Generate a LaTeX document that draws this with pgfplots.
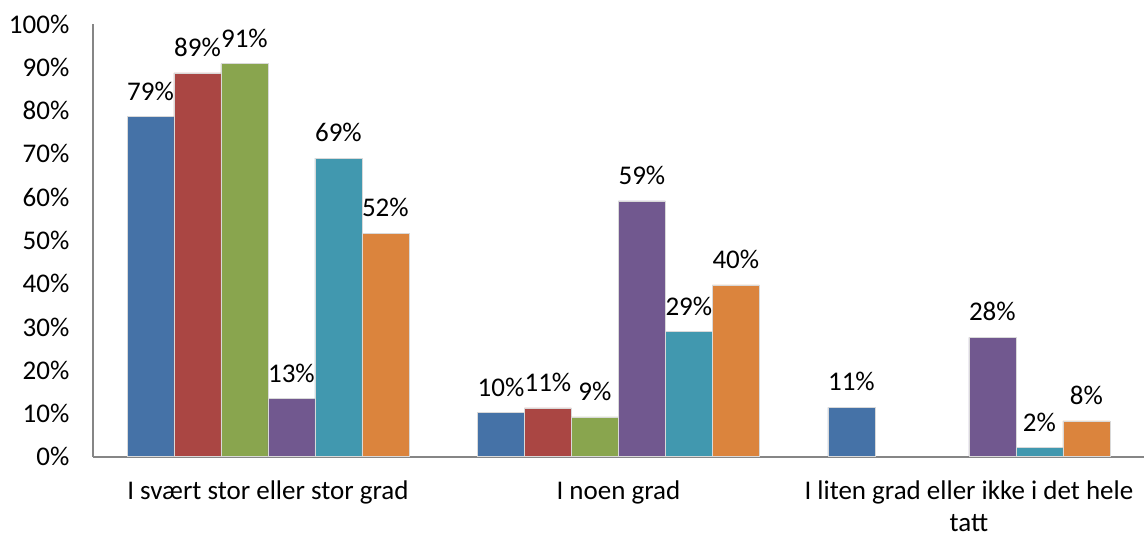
\documentclass[border=0pt]{standalone}
\usepackage{pgfplots}
\pgfplotsset{compat=1.18}
\usepackage{fontspec}
\setmainfont{Carlito}
\definecolor{c1}{HTML}{4572A7}
\definecolor{c2}{HTML}{AA4643}
\definecolor{c3}{HTML}{89A54E}
\definecolor{c4}{HTML}{71588F}
\definecolor{c5}{HTML}{4198AF}
\definecolor{c6}{HTML}{DB843D}
\definecolor{axgray}{HTML}{868686}
\begin{document}
\fontsize{13.5pt}{15.5pt}\selectfont
\begin{tikzpicture}
\begin{axis}[
  scale only axis,
  width=526pt, height=216.5pt,
  xmin=-0.5, xmax=2.5,
  ymin=0, ymax=100,
  ybar=0pt, bar width=23.5pt,
  axis x line*=bottom, axis y line*=left,
  axis line style={axgray, line width=0.9pt, -},
  xtick={0,1,2},
  xticklabels={I svært stor eller stor grad, I noen grad, {I liten grad eller ikke i det hele\\tatt}},
  xticklabel style={align=center, yshift=-7.5pt, font=\fontsize{13.5pt}{16pt}\selectfont},
  ytick={0,10,...,100},
  yticklabel={\pgfmathprintnumber{\tick}\%},
  yticklabel style={xshift=-7pt, font=\fontsize{13.5pt}{15.5pt}\selectfont},
  /pgf/number format/assume math mode=true,
  major tick length=0pt,
  tick style={draw=none},
  nodes near coords={\pgfmathprintnumber[fixed,precision=0]{\pgfplotspointmeta}\%},
  nodes near coords style={font=\fontsize{13.5pt}{15.5pt}\selectfont, text=black, yshift=3.5pt, /pgf/number format/assume math mode=true},
  every axis plot/.append style={draw=white!85!black, line width=0.3pt},
]
\addplot[fill=c1] coordinates {(0,78.6) (1,10.2) (2,11.4)};
\addplot[fill=c2] coordinates {(0,88.7) (1,11.3)};
\addplot[fill=c3] coordinates {(0,90.8) (1,9.2)};
\addplot[fill=c4] coordinates {(0,13.4) (1,59.1) (2,27.6)};
\addplot[fill=c5] coordinates {(0,69.0) (1,28.9) (2,2.1)};
\addplot[fill=c6] coordinates {(0,51.7) (1,39.7) (2,8.3)};
\end{axis}
\path (current axis.north west) ++(0,12pt) coordinate (topmargin);
\path (current axis.south west) ++(0,-37.5pt) coordinate (botmargin);
\end{tikzpicture}
\end{document}
